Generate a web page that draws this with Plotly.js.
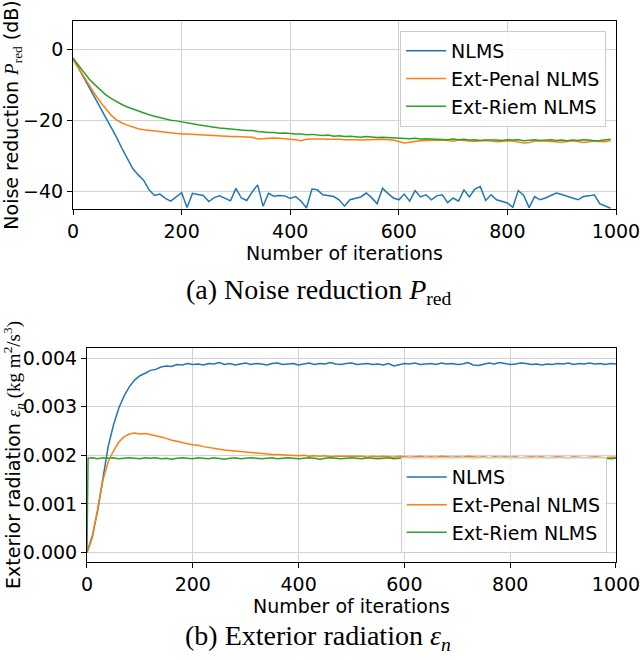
<!DOCTYPE html>
<html>
<head>
<meta charset="utf-8">
<script src="https://cdn.plot.ly/plotly-3.0.1.min.js"></script>
<style>
  body { margin: 0; background: white; }
  #chart1 { width: 640px; height: 660px; }
</style>
</head>
<body>
<div id="chart1"></div>
<script>
// (a) noise reduction in dB, read every 10 iterations
const itersTop = []
for (var i = 0; i < 1000; i += 10) { itersTop.push(i) }

const nlmsRed = [
  -2.5, -5.3, -8.0, -10.6, -13.3, -16.2, -19.3, -22.0, -24.8, -27.9,
  -30.8, -33.6, -35.4, -36.9, -39.6, -41.2, -40.8, -42.0, -42.8, -41.6,
  -40.4, -44.6, -40.6, -40.9, -41.2, -42.9, -41.8, -41.3, -42.0, -42.7,
  -39.2, -41.9, -42.6, -40.2, -38.2, -44.2, -40.6, -41.4, -41.2, -41.3,
  -42.0, -41.5, -42.8, -44.7, -39.4, -39.6, -41.0, -41.2, -41.5, -42.4,
  -44.2, -42.4, -41.9, -41.6, -40.5, -41.8, -43.5, -39.2, -40.6, -41.9,
  -42.4, -40.8, -42.8, -39.8, -41.6, -41.0, -42.4, -41.3, -41.0, -43.2,
  -41.9, -42.8, -39.6, -41.6, -39.4, -38.7, -42.6, -41.0, -42.4, -42.8,
  -43.3, -44.5, -39.8, -41.2, -44.6, -41.5, -42.4, -41.9, -41.3, -40.5,
  -40.9, -41.5, -41.9, -42.4, -41.5, -41.3, -41.0, -43.5, -44.2, -44.8
]
const penalRed = [
  -3.0, -5.4, -8.0, -10.4, -12.6, -14.8, -16.8, -18.6, -19.9, -20.8,
  -21.4, -22.0, -22.4, -22.7, -22.9, -23.1, -23.3, -23.5, -23.7, -23.8,
  -23.9, -23.9, -24.0, -24.1, -24.1, -24.3, -24.4, -24.6, -24.5, -24.6,
  -24.6, -24.7, -24.8, -24.8, -25.3, -25.2, -24.9, -25.0, -25.1, -25.2,
  -25.3, -25.5, -25.8, -25.4, -25.3, -25.2, -25.3, -25.4, -25.3, -25.4,
  -25.5, -25.4, -25.5, -25.6, -25.5, -25.4, -25.5, -25.4, -25.5, -25.6,
  -26.0, -26.4, -26.2, -25.9, -25.8, -25.7, -25.6, -25.5, -25.6, -25.7,
  -25.9, -25.6, -25.8, -25.9, -26.0, -25.8, -25.7, -25.9, -26.1, -26.0,
  -25.8, -25.9, -26.1, -26.4, -26.3, -25.9, -25.8, -25.9, -26.0, -25.9,
  -26.2, -26.0, -25.8, -26.0, -26.3, -26.1, -25.9, -26.0, -26.1, -25.8
]
const riemRed = [
  -2.6, -4.6, -6.6, -8.5, -10.0, -11.5, -12.8, -13.9, -14.8, -15.6,
  -16.3, -16.9, -17.5, -18.0, -18.5, -18.9, -19.3, -19.7, -20.0, -20.2,
  -20.4, -20.7, -21.0, -21.3, -21.6, -21.8, -22.0, -22.2, -22.4, -22.5,
  -22.7, -22.8, -22.9, -22.9, -23.2, -23.4, -23.5, -23.5, -23.7, -23.6,
  -23.8, -23.9, -23.9, -24.1, -24.0, -24.2, -24.3, -24.2, -24.5, -24.4,
  -24.6, -24.5, -24.7, -24.8, -24.6, -24.8, -24.9, -24.8, -24.9, -25.0,
  -25.1, -25.0, -25.2, -25.1, -25.3, -25.2, -25.3, -25.5, -25.4, -25.5,
  -25.3, -25.5, -25.4, -25.6, -25.5, -25.7, -25.6, -25.5, -25.6, -25.7,
  -25.5, -25.6, -25.5, -25.8, -25.6, -25.5, -25.7, -25.6, -25.5, -25.7,
  -25.6, -25.8, -25.6, -25.7, -25.5, -25.6, -25.8, -25.7, -25.6, -25.4
]

// (b) exterior radiation, iteration 2 added for the jump of Ext-Riem
const itersBot = [0, 2]
for (var i = 10; i <= 1000; i += 10) { itersBot.push(i) }

const nlmsRad = [
  0, 0.00006, 0.00034, 0.00085, 0.00156, 0.00218, 0.00262, 0.00297, 0.00322, 0.00341,
  0.00355, 0.00364, 0.00369, 0.00375, 0.00377, 0.00382, 0.00384, 0.00383, 0.00387, 0.00386,
  0.00389, 0.00387, 0.00388, 0.00386, 0.00389, 0.00388, 0.00391, 0.00387, 0.00389, 0.00386,
  0.00388, 0.00390, 0.00387, 0.00389, 0.00388, 0.00386, 0.00389, 0.00390, 0.00387, 0.00388,
  0.00389, 0.00386, 0.00388, 0.00390, 0.00387, 0.00389, 0.00388, 0.00391, 0.00388, 0.00387,
  0.00389, 0.00390, 0.00387, 0.00388, 0.00389, 0.00387, 0.00388, 0.00386, 0.00389, 0.00384,
  0.00387, 0.00389, 0.00388, 0.00390, 0.00387, 0.00388, 0.00389, 0.00387, 0.00390, 0.00388,
  0.00389, 0.00387, 0.00388, 0.00391, 0.00386, 0.00385, 0.00388, 0.00390, 0.00388, 0.00391,
  0.00389, 0.00387, 0.00388, 0.00390, 0.00389, 0.00387, 0.00388, 0.00386, 0.00388, 0.00387,
  0.00389, 0.00388, 0.00390, 0.00387, 0.00389, 0.00388, 0.00390, 0.00388, 0.00389, 0.00387,
  0.00389, 0.00388
]
const penalRad = [
  0, 0.00005, 0.00030, 0.00090, 0.00148, 0.00187, 0.00209, 0.00227, 0.00238, 0.00244,
  0.00246, 0.00244, 0.00245, 0.00243, 0.00241, 0.00238, 0.00235, 0.00231, 0.00229, 0.00226,
  0.00224, 0.00222, 0.00221, 0.00218, 0.00216, 0.00214, 0.00213, 0.00211, 0.00210, 0.00209,
  0.00207, 0.00206, 0.00205, 0.00205, 0.00204, 0.00203, 0.00202, 0.00202, 0.00201, 0.00200,
  0.00200, 0.00199, 0.00200, 0.00198, 0.00199, 0.00198, 0.00199, 0.00197, 0.00198, 0.00198,
  0.00197, 0.00198, 0.00197, 0.00198, 0.00196, 0.00198, 0.00197, 0.00198, 0.00197, 0.00196,
  0.00198, 0.00197, 0.00196, 0.00197, 0.00198, 0.00196, 0.00197, 0.00196, 0.00198, 0.00197,
  0.00196, 0.00197, 0.00196, 0.00198, 0.00197, 0.00196, 0.00197, 0.00195, 0.00197, 0.00196,
  0.00197, 0.00196, 0.00197, 0.00195, 0.00196, 0.00197, 0.00196, 0.00197, 0.00195, 0.00196,
  0.00197, 0.00196, 0.00195, 0.00197, 0.00196, 0.00195, 0.00196, 0.00197, 0.00196, 0.00195,
  0.00196, 0.00196
]
const riemRad = [
  0, 0.00194, 0.00195, 0.00193, 0.00195, 0.00194, 0.00195, 0.00193, 0.00194, 0.00195,
  0.00194, 0.00193, 0.00195, 0.00194, 0.00195, 0.00193, 0.00194, 0.00192, 0.00194, 0.00195,
  0.00194, 0.00193, 0.00195, 0.00194, 0.00193, 0.00195, 0.00194, 0.00192, 0.00194, 0.00195,
  0.00193, 0.00194, 0.00195, 0.00194, 0.00193, 0.00194, 0.00195, 0.00193, 0.00194, 0.00195,
  0.00194, 0.00193, 0.00194, 0.00195, 0.00194, 0.00192, 0.00194, 0.00195, 0.00194, 0.00193,
  0.00194, 0.00195, 0.00194, 0.00193, 0.00195, 0.00194, 0.00193, 0.00194, 0.00195, 0.00193,
  0.00194, 0.00195, 0.00194, 0.00193, 0.00194, 0.00195, 0.00194, 0.00193, 0.00195, 0.00194,
  0.00193, 0.00194, 0.00195, 0.00194, 0.00193, 0.00194, 0.00195, 0.00193, 0.00194, 0.00195,
  0.00194, 0.00193, 0.00194, 0.00195, 0.00194, 0.00193, 0.00195, 0.00194, 0.00193, 0.00194,
  0.00195, 0.00194, 0.00193, 0.00194, 0.00195, 0.00194, 0.00193, 0.00194, 0.00195, 0.00194,
  0.00193, 0.00194
]

const names = ['NLMS', 'Ext-Penal NLMS', 'Ext-Riem NLMS']
const colors = ['#1f77b4', '#ff7f0e', '#2ca02c']

const sans = 'DejaVu Sans, sans-serif'
const serif = 'Liberation Serif, DejaVu Serif, serif'

function makeTrace(x, y, k, xa, ya, leg) {
    return {
        x: x, y: y, name: names[k],
        type: 'scatter', mode: 'lines',
        line: {color: colors[k], width: 1.5},
        xaxis: xa, yaxis: ya, legend: leg,
        hoverinfo: 'skip',
    }
}

var traces = [
    makeTrace(itersTop, nlmsRed, 0, 'x', 'y', 'legend'),
    makeTrace(itersTop, penalRed, 1, 'x', 'y', 'legend'),
    makeTrace(itersTop, riemRed, 2, 'x', 'y', 'legend'),
    makeTrace(itersBot, nlmsRad, 0, 'x2', 'y2', 'legend2'),
    makeTrace(itersBot, penalRad, 1, 'x2', 'y2', 'legend2'),
    makeTrace(itersBot, riemRad, 2, 'x2', 'y2', 'legend2'),
]

// shared look of the matplotlib style axes
function axisStyle(extra) {
    var a = {
        showline: true, mirror: true, linecolor: 'black', linewidth: 1,
        ticks: 'outside', ticklen: 5, tickwidth: 1, tickcolor: 'black',
        showgrid: true, gridcolor: '#d2d2d2', gridwidth: 1,
        zeroline: false, automargin: false, fixedrange: true,
        ticklabeloverflow: 'allow',
        tickfont: {family: sans, size: 19, color: 'black'},
    }
    return Object.assign(a, extra)
}

const legendStyle = {
    bgcolor: 'rgba(255,255,255,0.8)', bordercolor: '#cccccc', borderwidth: 1,
    font: {family: sans, size: 19, color: 'black'},
    itemwidth: 40, xanchor: 'right',
}

var layout = {
    width: 640, height: 660,
    margin: {l: 0, r: 0, t: 0, b: 0},
    paper_bgcolor: 'white', plot_bgcolor: 'white',
    font: {family: sans, size: 19, color: 'black'},
    xaxis: axisStyle({
        domain: [0.1141, 0.9625], anchor: 'y', range: [0, 1000], tick0: 0, dtick: 200,
        title: {text: 'Number of iterations', font: {family: sans, size: 19}, standoff: 1},
    }),
    yaxis: axisStyle({
        domain: [0.6833, 0.9682], anchor: 'x', range: [-45, 7.9], tick0: 0, dtick: 20,
        title: {text: 'Noise reduction <span style="font-family:Liberation Serif"><i>P</i><sub>red</sub></span> (dB)',
                font: {family: sans, size: 19}, standoff: 6},
    }),
    xaxis2: axisStyle({
        domain: [0.1359, 0.9625], anchor: 'y2', range: [0, 1000], tick0: 0, dtick: 200,
        title: {text: 'Number of iterations', font: {family: sans, size: 19}, standoff: 0},
    }),
    yaxis2: axisStyle({
        domain: [0.1485, 0.4727], anchor: 'x2', range: [-0.000195, 0.00421], tick0: 0, dtick: 0.001,
        tickformat: '.3f',
        title: {text: 'Exterior radiation <span style="font-family:Liberation Serif"><i>ε<sub>n</sub></i> (kg m<sup>2</sup>/s<sup>3</sup>)</span>',
                font: {family: sans, size: 19}, standoff: 4},
    }),
    legend: Object.assign({x: 0.947, y: 0.953, yanchor: 'top'}, legendStyle),
    legend2: Object.assign({x: 0.948, y: 0.162, yanchor: 'bottom'}, legendStyle),
    annotations: [
        {xref: 'paper', yref: 'paper', x: 0.497, y: 0.559, xanchor: 'center', yanchor: 'middle',
         text: '(a) Noise reduction <i>P</i><sub>red</sub>', showarrow: false,
         font: {family: serif, size: 28, color: 'black'}},
        {xref: 'paper', yref: 'paper', x: 0.497, y: 0.034, xanchor: 'center', yanchor: 'middle',
         text: '(b) Exterior radiation <i>ε<sub>n</sub></i>', showarrow: false,
         font: {family: serif, size: 28, color: 'black'}},
    ],
}

Plotly.newPlot('chart1', traces, layout, {displayModeBar: false, staticPlot: true})
</script>
</body>
</html>
